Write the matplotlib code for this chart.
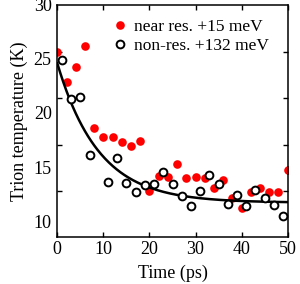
import numpy as np
import matplotlib
matplotlib.use('Agg')
import matplotlib.pyplot as plt

plt.rcParams['font.family'] = ['Liberation Serif', 'DejaVu Serif']
plt.rcParams['mathtext.fontset'] = 'stix'

# near resonance excitation, +15 meV (red dots)
t_near = [0, 2, 4, 6, 8, 10, 12, 14, 16, 18, 20, 22, 24, 26, 28, 30, 32,
          34, 36, 38, 40, 42, 44, 46, 48, 50]
T_near = [25.6, 22.9, 24.3, 26.2, 18.65, 17.75, 17.8, 17.35, 16.9, 17.45,
          12.8, 14.2, 14.1, 15.25, 13.95, 14.05, 13.95, 13.1, 13.8, 12.15,
          11.25, 12.7, 13.1, 12.65, 12.7, 14.7]

# non resonant excitation, +132 meV (open circles)
t_non = [1, 3, 5, 7, 11, 13, 15, 17, 19, 21, 23, 25, 27, 29, 31, 33, 35,
         37, 39, 41, 43, 45, 47, 49]
T_non = [24.9, 21.3, 21.5, 16.1, 13.6, 15.8, 13.5, 12.7, 13.3, 13.4, 14.5,
         13.4, 12.3, 11.4, 12.75, 14.3, 13.4, 11.6, 12.4, 11.35, 12.9, 12.1,
         11.5, 10.5]

# exponential fit  T = T0 + A*exp(-t/tau)
fit_T0 = 11.7
fit_A = 12.9
fit_tau = 9.0

xticks = [0, 10, 20, 30, 40, 50]
ylabels = [10, 15, 20, 25, 30]
# inner tick marks on the y axis sit apart from the labels in the original
ymarks = [25.68, 21.36, 17.04, 12.78]

fig = plt.figure(figsize=(3.0, 2.84), dpi=100)
ax = fig.add_axes([0.191, 0.1655, 0.768, 0.817])

tt = np.linspace(0, 50, 300)
ax.plot(t_near, T_near, 'o', color='#ff0000', ms=6.2, mec='none',
        label='near res. +15 meV', zorder=2)
ax.plot(tt, fit_T0 + fit_A * np.exp(-tt / fit_tau), '-', color='black',
        lw=1.8, zorder=3)
ax.plot(t_non, T_non, 'o', mfc='white', mec='black', mew=1.4, ms=5.6,
        label='non-res. +132 meV', zorder=4)

ax.set_xlim(0, 50)
ax.set_ylim(8.52, 30)
ax.set_xticks(xticks)
ax.set_yticks(ylabels)
ax.set_yticks(ymarks, minor=True)
ax.tick_params(axis='x', which='major', direction='in', top=True,
               length=3.5, width=1.0, labelsize=13, pad=3)
ax.tick_params(axis='y', which='major', length=0, labelsize=13, pad=4)
ax.tick_params(axis='y', which='minor', direction='in', right=True,
               length=3.5, width=1.0)
for s in ax.spines.values():
    s.set_linewidth(1.1)

ax.set_xlabel('Time (ps)', fontsize=13, labelpad=5)
ax.set_ylabel('Trion temperature (K)', fontsize=13, labelpad=4)

ax.legend(loc='upper right', bbox_to_anchor=(0.969, 0.993), frameon=False,
          fontsize=12.5, handletextpad=0.3, labelspacing=0.15,
          handlelength=1.0, borderaxespad=0.3)

fig.savefig('out.png', dpi=100)
